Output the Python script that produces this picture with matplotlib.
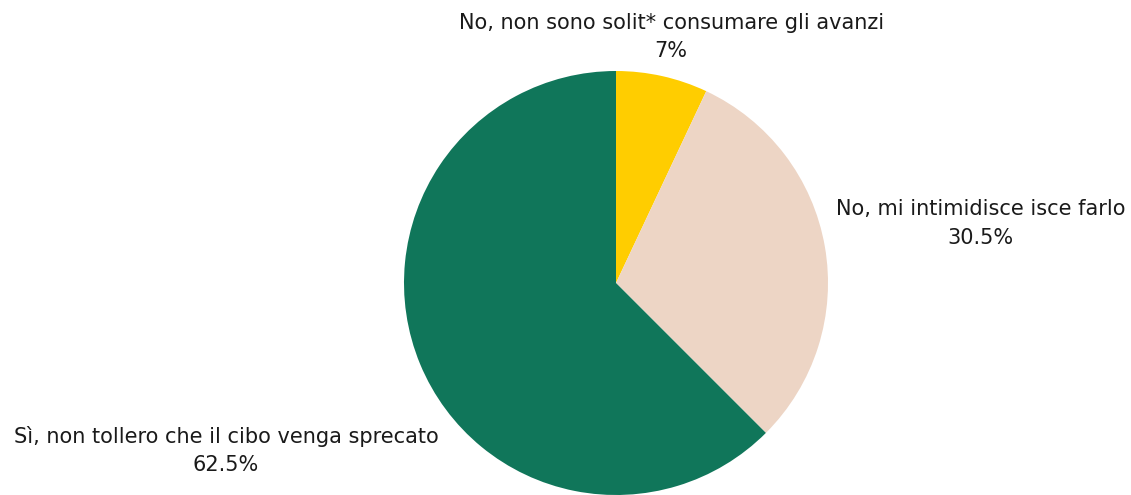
import matplotlib.pyplot as plt

# Risposte al sondaggio sugli avanzi
labels = ["No, non sono solit* consumare gli avanzi",
          "No, mi intimidisce isce farlo",
          "Sì, non tollero che il cibo venga sprecato"]
values = [7.0, 30.5, 62.5]
colors = ["#FFCD00", "#EDD5C5", "#10765A"]

# posizioni delle etichette (coordinate della torta, raggio = 1)
label_pos = [(0.26, 1.16), (1.72, 0.28), (-1.84, -0.79)]

W, H = 1131, 495
fig = plt.figure(figsize=(W / 100, H / 100), dpi=100)
cx, cy, r = 616, 495 - 283, 212
ax = fig.add_axes([(cx - r) / W, (cy - r) / H, 2 * r / W, 2 * r / H])

ax.pie(values, colors=colors, startangle=90, counterclock=False,
       radius=1, wedgeprops=dict(linewidth=0))
ax.set_xlim(-1, 1)
ax.set_ylim(-1, 1)
ax.axis("off")

for lab, val, (x, y) in zip(labels, values, label_pos):
    ax.text(x, y, f"{lab}\n{val:g}%", ha="center", va="center",
            fontsize=15, color="#1a1a1a", linespacing=1.55,
            family="DejaVu Sans", clip_on=False)

fig.savefig("out.png", dpi=100)
